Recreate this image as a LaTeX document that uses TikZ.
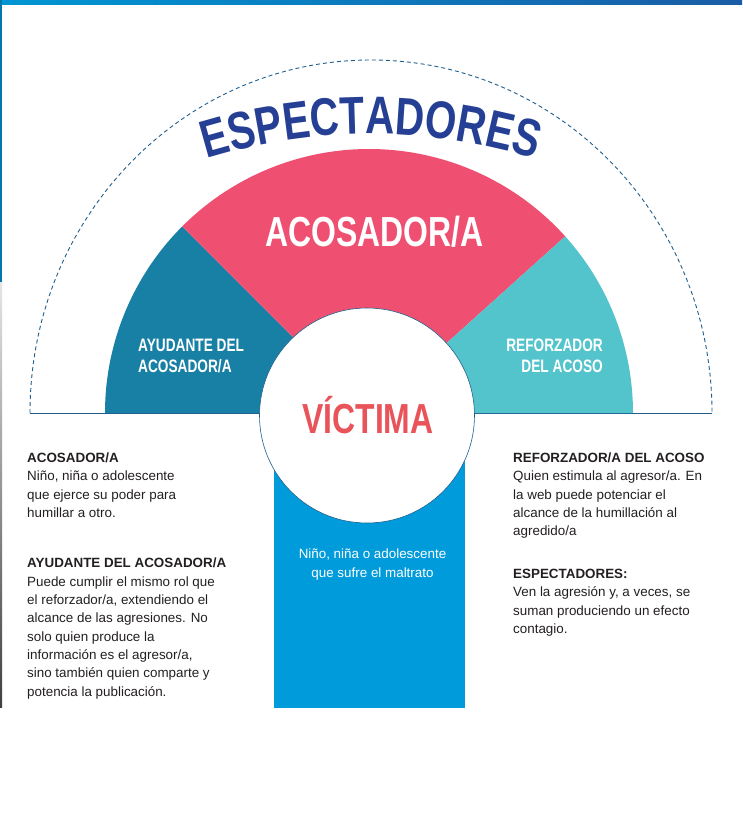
\documentclass[tikz,border=0pt]{standalone}
\usepackage{fontspec}
\setmainfont{Liberation Sans}
\newfontfamily\condfont[FakeStretch=0.76]{Liberation Sans}
\usetikzlibrary{decorations.text}

\definecolor{barraizq}{HTML}{0096D3}
\definecolor{barrader}{HTML}{1A5CA5}
\definecolor{lineaazul}{HTML}{1F5E8C}
\definecolor{ayudante}{HTML}{187FA5}
\definecolor{acosador}{HTML}{EF5071}
\definecolor{reforzador}{HTML}{54C4CC}
\definecolor{victima}{HTML}{009BDB}
\definecolor{victimatxt}{HTML}{E8545A}
\definecolor{espectador}{HTML}{253F94}
\definecolor{texto}{HTML}{231F20}

\begin{document}
\begin{tikzpicture}[x=1pt, y=1pt,
  cuerpo/.style={anchor=north west, inner sep=0pt, align=left, text=texto,
    font=\fontsize{13.4}{18.3}\selectfont},
  rotulo/.style={inner sep=0pt, text=white,
    font=\condfont\bfseries\fontsize{18}{21}\selectfont},
  titulo/.style={inner sep=0pt, anchor=base,
    font=\condfont\bfseries\fontsize{42}{42}\selectfont}]
  \useasboundingbox (0,0) rectangle (742,-819);
  % bordes de la pagina
  \shade[left color=barraizq, right color=barrader] (0,0) rectangle (742,-4);
  \fill[barraizq!80!black] (0,0) rectangle (2,-282);
  \shade[top color=gray!20, bottom color=black!75] (0,-282) rectangle (2,-707);
  % arco de los espectadores
  \draw[lineaazul, dash pattern=on 4pt off 3pt, line width=0.9pt]
    (30,-413) arc[start angle=180, end angle=0, x radius=341, y radius=353];
  \path[decorate, decoration={text along path, text align=center,
      text={|\condfont\bfseries\fontsize{53}{53}\selectfont\color{espectador}|ESPECTADORES}}]
    (179.5,-167.8) arc[start angle=110, end angle=70, radius=560];
  \draw[lineaazul, line width=1pt] (30,-413) -- (712,-413);
  % abanico
  \coordinate (centro) at (369,-413);
  \fill[ayudante] (centro) -- ++(180:264) arc[start angle=180, end angle=135, radius=264] -- cycle;
  \fill[acosador] (centro) -- ++(135:264) arc[start angle=135, end angle=42, radius=264] -- cycle;
  \fill[reforzador] (centro) -- ++(42:264) arc[start angle=42, end angle=0, radius=264] -- cycle;
  \fill[victima] (274,-413) rectangle (465,-708);
  \draw[lineaazul, line width=0.6pt, fill=white] (367,-415.5) circle[radius=107.5];

  \node[titulo, text=white] (acosador) at (374.5,-246) {ACOSADOR/A};
  \node[titulo, text=victimatxt] (victima) at (368,-433) {VÍCTIMA};
  \node[rotulo, anchor=north west, align=left] (ayudante) at (138,-339) {AYUDANTE DEL\\ACOSADOR/A};
  \node[rotulo, anchor=north east, align=right] (reforzador) at (603,-339) {REFORZADOR\\DEL ACOSO};
  \node[cuerpo, anchor=north, align=center, text=white] (sufre) at (372.5,-549)
    {Niño, niña o adolescente\\que sufre el maltrato};

  % definiciones
  \node[cuerpo] (defacosador) at (27,-452.5)
    {\textbf{ACOSADOR/A}\\Niño, niña o adolescente\\que ejerce su poder para\\humillar a otro.};
  \node[cuerpo] (defayudante) at (27,-558)
    {\textbf{AYUDANTE DEL ACOSADOR/A}\\Puede cumplir el mismo rol que\\el reforzador/a, extendiendo el\\alcance de las agresiones. No\\solo quien produce la\\información es el agresor/a,\\sino también quien comparte y\\potencia la publicación.};
  \node[cuerpo] (defreforzador) at (513,-452.5)
    {\textbf{REFORZADOR/A DEL ACOSO}\\Quien estimula al agresor/a. En\\la web puede potenciar el\\alcance de la humillación al\\agredido/a};
  \node[cuerpo] (defespectadores) at (513,-569)
    {\textbf{ESPECTADORES:}\\Ven la agresión y, a veces, se\\suman produciendo un efecto\\contagio.};
\end{tikzpicture}
\end{document}
